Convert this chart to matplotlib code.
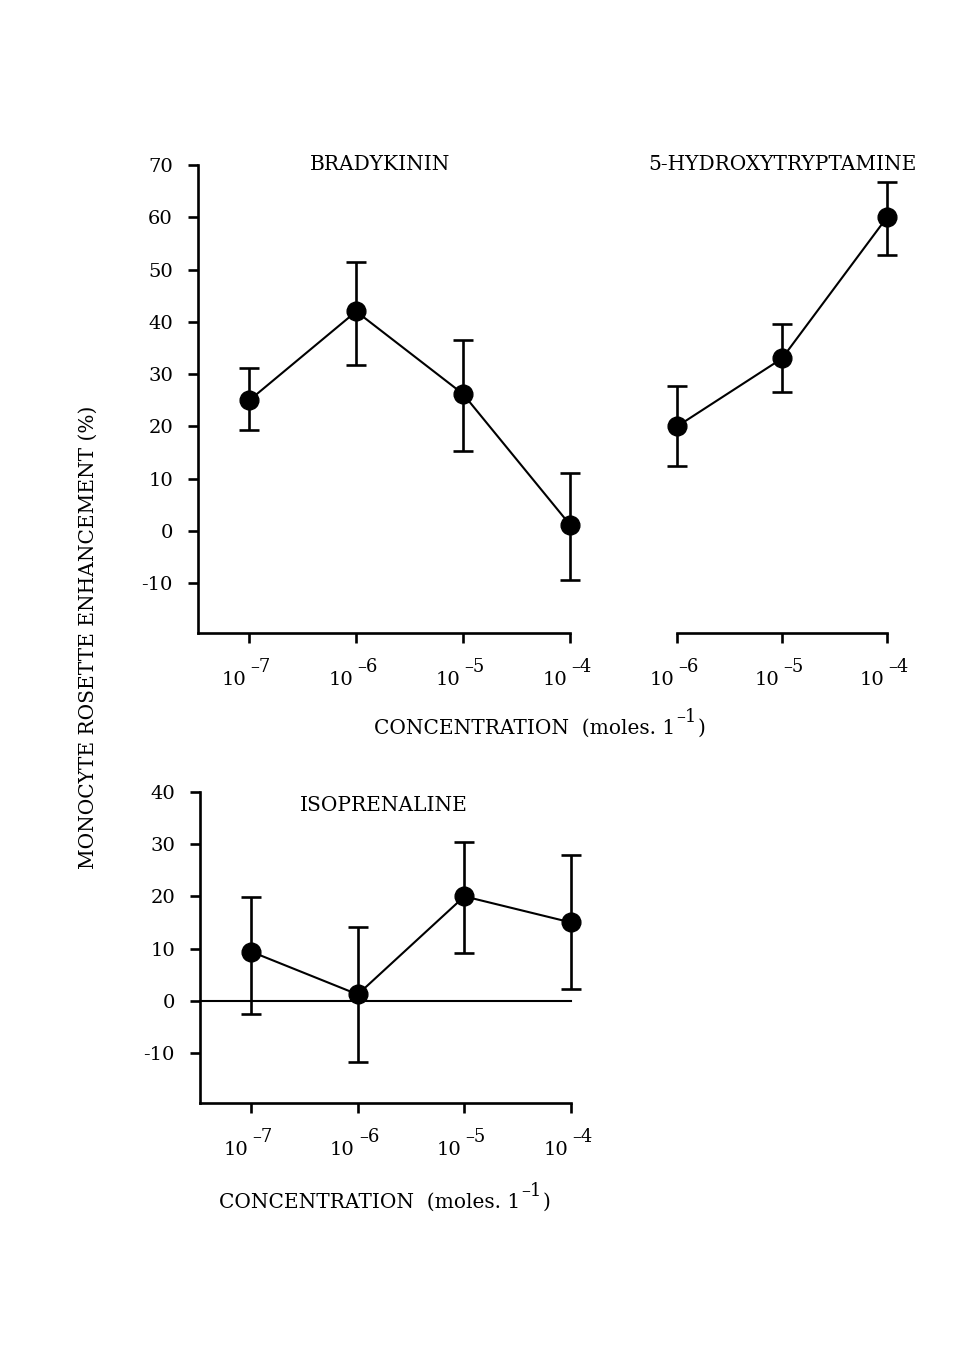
import matplotlib.pyplot as plt

plt.rcParams['font.family'] = ['DejaVu Serif']
plt.rcParams['axes.unicode_minus'] = False

# log10 concentration (moles/l)
brady_x = [-7, -6, -5, -4]
brady_y = [25.0, 42.0, 26.2, 1.2]
brady_lo = [19.3, 31.8, 15.3, -9.4]
brady_hi = [31.2, 51.5, 36.6, 11.1]

ht_x = [-6, -5, -4]
ht_y = [20.0, 33.0, 60.0]
ht_lo = [12.4, 26.5, 52.8]
ht_hi = [27.7, 39.6, 66.7]

iso_x = [-7, -6, -5, -4]
iso_y = [9.4, 1.2, 20.0, 15.0]
iso_lo = [-2.6, -11.7, 9.1, 2.2]
iso_hi = [19.8, 14.2, 30.5, 27.9]

top_yticks = [70, 60, 50, 40, 30, 20, 10, 0, -10]
bot_yticks = [40, 30, 20, 10, 0, -10]

FS = 14.5
TS = 14
SS = 13
W, H = 979, 1348
PT = 0.72  # points per pixel at dpi 100


def rect(x0, x1, y0, y1):
    # pixel box -> figure fraction
    return [x0 / W, (H - y1) / H, (x1 - x0) / W, (y1 - y0) / H]


def draw(ax, x, y, lo, hi):
    yerr = [[a - b for a, b in zip(y, lo)], [b - a for a, b in zip(y, hi)]]
    ax.errorbar(x, y, yerr=yerr, fmt='-o', color='black', lw=1.5, ms=13.5,
                elinewidth=1.9, capsize=7, capthick=1.9, clip_on=False, zorder=3)


def style(ax, xt, show_y=True):
    for s in ['top', 'right']:
        ax.spines[s].set_visible(False)
    ax.spines['bottom'].set_linewidth(1.9)
    ax.spines['left'].set_linewidth(1.9)
    ax.set_xticks(xt)
    ax.set_xticklabels([])
    ax.tick_params(axis='x', direction='out', length=7, width=1.9)
    ax.tick_params(axis='y', direction='out', length=7, width=1.9, pad=11, labelsize=TS)
    if not show_y:
        ax.spines['left'].set_visible(False)
        ax.set_yticks([])
    # "10" with a large raised exponent, as typed on the original
    for v in xt:
        ax.annotate('10', xy=(v, 0), xycoords=('data', 'axes fraction'),
                    xytext=(-3 * PT, -52 * PT), textcoords='offset points',
                    ha='right', va='baseline', fontsize=TS)
        ax.annotate('\u2013%d' % abs(v), xy=(v, 0), xycoords=('data', 'axes fraction'),
                    xytext=(1 * PT, -39 * PT), textcoords='offset points',
                    ha='left', va='baseline', fontsize=SS)


def conc_label(fig, xc, yb):
    # base text, raised exponent and closing bracket, centred on xc (pixels)
    r = fig.canvas.get_renderer()
    a = fig.text(0, 0, 'CONCENTRATION  (moles. 1', fontsize=FS, va='baseline')
    b = fig.text(0, 0, '\u20131', fontsize=SS, va='baseline')
    c = fig.text(0, 0, ')', fontsize=FS, va='baseline')
    wa = a.get_window_extent(r).width
    wb = b.get_window_extent(r).width
    wc = c.get_window_extent(r).width
    x0 = xc - (wa + wb + wc + 2) / 2
    a.set_position((x0 / W, 1 - yb / H))
    b.set_position(((x0 + wa + 1) / W, 1 - (yb - 12) / H))
    c.set_position(((x0 + wa + wb + 2) / W, 1 - yb / H))


fig = plt.figure(figsize=(W / 100, H / 100), dpi=100)

ax1 = fig.add_axes(rect(198, 570, 165, 633))
draw(ax1, brady_x, brady_y, brady_lo, brady_hi)
ax1.set_xlim(-7.48, -4)
ax1.set_ylim(-19.5, 70)
style(ax1, brady_x)
ax1.set_yticks(top_yticks)
ax1.text(-5.78, 70, 'BRADYKININ', ha='center', va='center', fontsize=FS)

ax2 = fig.add_axes(rect(677, 887, 165, 633))
draw(ax2, ht_x, ht_y, ht_lo, ht_hi)
ax2.set_xlim(-6, -4)
ax2.set_ylim(-19.5, 70)
style(ax2, ht_x, show_y=False)
ax2.text(-5.0, 70, '5-HYDROXYTRYPTAMINE', ha='center', va='center', fontsize=FS)

ax3 = fig.add_axes(rect(200, 571, 792, 1103))
ax3.plot([-7.48, -4], [0, 0], color='black', lw=1.5, clip_on=False)
draw(ax3, iso_x, iso_y, iso_lo, iso_hi)
ax3.set_xlim(-7.48, -4)
ax3.set_ylim(-19.6, 40)
style(ax3, iso_x)
ax3.set_yticks(bot_yticks)
ax3.text(-5.76, 37.5, 'ISOPRENALINE', ha='center', va='center', fontsize=FS)

conc_label(fig, 540, 734)
conc_label(fig, 385, 1208)
fig.text(88 / W, 1 - 637 / H, 'MONOCYTE ROSETTE ENHANCEMENT (%)',
         rotation=90, ha='center', va='center', fontsize=FS)

fig.savefig('out.png', dpi=100, facecolor='white')
